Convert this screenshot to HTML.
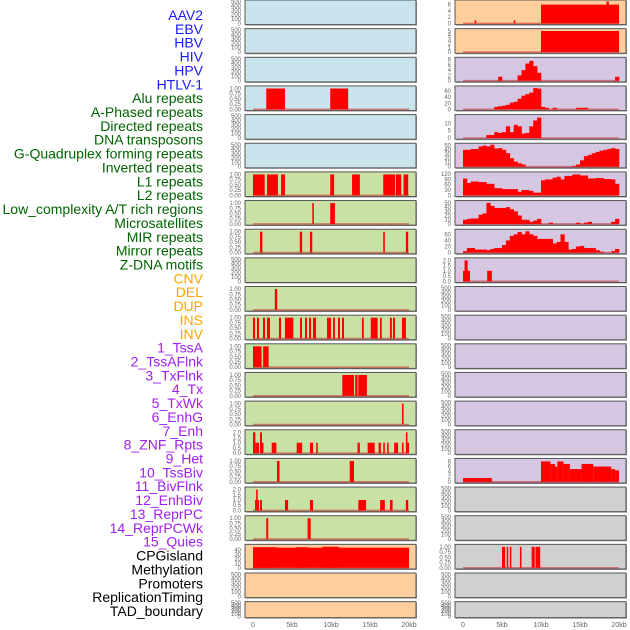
<!DOCTYPE html>
<html><head><meta charset="utf-8"><style>
body{margin:0;background:#fff;width:630px;height:630px;overflow:hidden}
svg{display:block}
text{font-family:"Liberation Sans",sans-serif}
</style></head><body>
<svg id="c" width="630" height="630" xmlns="http://www.w3.org/2000/svg"></svg>
<script>
const labels=["AAV2","EBV","HBV","HIV","HPV","HTLV-1","Alu repeats","A-Phased repeats","Directed repeats","DNA transposons","G-Quadruplex forming repeats","Inverted repeats","L1 repeats","L2 repeats","Low_complexity A/T rich regions","Microsatellites","MIR repeats","Mirror repeats","Z-DNA motifs","CNV","DEL","DUP","INS","INV","1_TssA","2_TssAFlnk","3_TxFlnk","4_Tx","5_TxWk","6_EnhG","7_Enh","8_ZNF_Rpts","9_Het","10_TssBiv","11_BivFlnk","12_EnhBiv","13_ReprPC","14_ReprPCWk","15_Quies","CPGisland","Methylation","Promoters","ReplicationTiming","TAD_boundary"];
const labelColors=["#1a1aff","#1a1aff","#1a1aff","#1a1aff","#1a1aff","#1a1aff","#006400","#006400","#006400","#006400","#006400","#006400","#006400","#006400","#006400","#006400","#006400","#006400","#006400","#ffa500","#ffa500","#ffa500","#ffa500","#ffa500","#a020f0","#a020f0","#a020f0","#a020f0","#a020f0","#a020f0","#a020f0","#a020f0","#a020f0","#a020f0","#a020f0","#a020f0","#a020f0","#a020f0","#a020f0","#000","#000","#000","#000","#000"];
const leftBg=["b","b","b","b","b","b","g","g","g","g","g","g","g","g","g","g","g","g","g","o","o","o"];
const rightBg=["o","o","p","p","p","p","p","p","p","p","p","p","p","p","p","p","p","y","y","y","y","y"];
// bar segments: [startKb,endKb,height]
const leftBars={
3:[[1.7,4.1,1],[9.9,12.2,1]],
6:[[0,1.5,1],[1.8,3.2,1],[3.6,4.1,1],[9.9,10.4,1],[12.7,13.7,1],[16.7,18.2,1],[18.3,19,1],[19.3,19.9,1]],
7:[[7.6,7.8,1],[9.9,10.5,1]],
8:[[0.9,1.2,1],[6.0,6.3,1],[7.3,7.6,1],[16.7,16.9,1],[19.6,19.9,1]],
10:[[2.8,3.1,1]],
11:[[0,0.26,1],[0.51,0.77,1],[1.28,1.54,1],[1.79,2.18,1],[3.33,3.59,1],[4.1,5.17,1],[6.03,6.28,1],[6.67,6.92,1],[7.18,7.44,1],[7.69,8.08,1],[9.49,10.0,1],[10.26,10.5,1],[10.9,11.15,1],[11.41,11.67,1],[13.97,14.2,1],[15.1,15.98,1],[16.28,16.5,1],[17.56,17.8,1],[17.95,18.2,1],[19.1,19.6,1]],
12:[[0,1.1,1],[1.3,2.0,1]],
13:[[11.45,12.95,1],[13.1,13.4,1],[13.5,14.6,1]],
14:[[19.1,19.3,1]],
15:[[0,0.3,2],[0.3,0.5,1],[0.5,0.77,1],[0.9,1.15,2],[1.15,1.3,1],[2.4,3.0,1],[5.6,6.3,1],[7.3,7.7,1],[8.1,8.3,1],[13.4,13.7,1],[14.7,15.6,1],[16.1,16.4,1],[16.7,16.9,1],[17.2,17.4,1],[18.1,18.6,1],[19.1,19.3,1],[19.6,19.8,2],[19.8,20,1]],
16:[[3.08,3.4,1],[12.4,12.95,1]],
17:[[0.26,0.77,1],[0.4,0.6,2],[0.9,1.15,1],[4.1,4.5,1],[7.3,7.7,1],[13.5,14.5,1],[16.3,16.9,1],[17.56,17.9,1],[19.6,19.9,1]],
18:[[1.7,1.95,1],[7.0,7.4,1]],
19:[[0,20,45],[0,3,46],[5.5,7,46],[8.9,11,47]]
};
const rightBars={
0:[[1.5,1.7,1],[6.5,6.7,1],[10,20,6],[18.4,18.7,7]],
1:[[10,20,5]],
9:[[0,0.9,1],[0.2,0.6,2],[3.1,3.7,1]],
16:[[0,3.7,1.5],[10,11.2,8],[11.2,11.8,7],[11.8,12.1,6],[12.1,12.9,8],[12.9,13.7,7],[13.7,15.2,5],[15.2,16.7,7],[16.7,19,6],[19,19.5,5],[19.5,20,4.5]],
19:[[5.0,5.4,1],[5.6,5.8,1],[6.0,6.2,1],[7.3,7.5,1],[8.8,9.2,1],[9.3,9.9,1]]
};
// histograms, 0.5kb bins (40 bins)
const hist2=[0,0,0,0,0,0,0,0,0,1.5,0,0,0,0,2,4,6.5,7.5,5.5,3,0,0,0,0,0,0,0,0,0,0,0,0,0,0,0,0,0,0,0,1.5];
const hist3=[0,0,0,0,0,0,0,0,8,10,12,15,22,25,35,45,50,55,70,68,8,5,0,5,0,0,0,0,0,5,5,5,0,0,0,0,0,0,0,0];
const hist4=[0,0,0,0,0,0,2,2,4,3.5,4,8,4,9,8,3,3.5,8,12,14,0,0,0,0,0,0,0,0,0,0,0,0,0,0,0,0,0,0,0,0];
const hist5=[40,40,42,42,48,50,48,52,43,44,40,32,20,12,8,5,0,0,0,0,0,0,0,0,0,0,0,0,2,5,15,25,28,32,35,38,40,42,44,42];
const hist6=[95,70,78,78,75,75,65,65,40,40,35,35,35,35,20,30,30,25,15,15,85,90,90,100,105,90,110,110,118,118,112,112,95,95,98,98,92,92,90,65];
const hist7=[10,12,13,13,22,25,50,43,38,38,38,40,35,30,20,10,10,5,8,12,0,0,3,0,0,0,0,0,0,3,0,3,5,0,0,0,0,0,5,12];
const hist8=[5,15,15,10,10,10,8,12,15,15,25,40,55,60,68,60,70,60,55,45,45,45,45,30,35,60,35,10,12,20,22,15,15,15,8,3,0,0,5,12];
const rightHist={2:hist2,3:hist3,4:hist4,5:hist5,6:hist6,7:hist7,8:hist8};
const ymaxL={3:1.05,6:1.05,7:1.05,8:1.05,10:1.05,11:1.05,12:1.05,13:1.05,14:1.05,15:2.1,16:1.05,17:2.1,18:1.05,19:49};
const ymaxR={0:7,1:5.2,2:8.3,3:72,4:15,5:52,6:124,7:52,8:72,9:2.1,16:8.6,19:1.05};
const ticksFor={1.05:["0.00","0.25","0.50","0.75","1.00"],2.1:["0.0","0.5","1.0","1.5","2.0"]};
const tickVals={1.05:[0,.25,.5,.75,1],2.1:[0,.5,1,1.5,2],49:[0,10,20,30,40],7:[0,2,4,6],5.2:[0,1,2,3,4,5],8.3:[0,2,4,6,8],72:[0,20,40,60],15:[0,5,10],52:[0,10,20,30,40,50],124:[0,30,60,90,120],8.6:[0,2,4,6,8]};
const xTicks=[0,5,10,15,20];
const xTickLabels=["0","5kb","10kb","15kb","20kb"];
const bgCol={b:"#c9e4ec",g:"#c9e1a4",o:"#fecf9d",p:"#d5c6e2",y:"#d0d0d0"};
const NS="http://www.w3.org/2000/svg";
const svg=document.getElementById("c");
function mk(t,a,p){const e=document.createElementNS(NS,t);for(const k in a)e.setAttribute(k,a[k]);(p||svg).appendChild(e);return e;}
function rowTop(i){return 28.65*i;}
function rowH(i){return i===21?16:24.6;}
const cols=[{x0:245,x1:416,z:253,bg:leftBg,bars:leftBars,hist:{},ymax:ymaxL,side:"left"},{x0:455,x1:626,z:463,bg:rightBg,bars:rightBars,hist:rightHist,ymax:ymaxR,side:"right"}];
function xs(col,kb){return col.z+kb*7.8;}
labels.forEach((l,k)=>{
  const t=mk("text",{x:203,y:15+13.86*k+5,"text-anchor":"end","font-size":"14",fill:labelColors[k]});
  t.textContent=l;
  
  
});
cols.forEach(col=>{
  for(let i=0;i<22;i++){
    const g=mk("g",{});
    
    
    const top=rowTop(i),h=rowH(i);
    const y0=top+h-1.2,y1=top+1.5;
    mk("rect",{x:col.x0+1,y:top+1,width:col.x1-col.x0,height:h,fill:"#999"},g);
    mk("rect",{x:col.x0,y:top,width:col.x1-col.x0,height:h,fill:bgCol[col.bg[i]],stroke:"#555","stroke-width":1},g);
    const ym=col.ymax[i];
    const ys=v=>y0-(v/(ym||500))*(y0-y1);
    let tv,tl;
    if(ym){tv=tickVals[ym];tl=ticksFor[ym]||tv.map(String);}
    else{tv=[0,100,200,300,400,500];tl=tv.map(String);}
    tv.forEach((v,j)=>{const t=mk("text",{x:col.x0-4,y:ys(v)+2,"text-anchor":"end","font-size":"6",fill:"#666"},g);t.textContent=tl[j];});
    if(ym){
      mk("line",{x1:xs(col,0),x2:xs(col,20),y1:y0,y2:y0,stroke:"rgba(200,40,40,0.55)","stroke-width":1.6},g);
    }
    const hv=col.hist[i];
    if(hv){hv.forEach((v,b)=>{if(v>0){const r=mk("rect",{x:xs(col,b*0.5),y:ys(v),width:7.8*0.5+0.3,height:y0-ys(v),fill:"#ff0000"},g);}});}
    const bs=col.bars[i];
    if(bs){bs.forEach(s=>{const r=mk("rect",{x:xs(col,s[0]),y:ys(s[2]),width:Math.max(1.5,(s[1]-s[0])*7.8),height:y0-ys(s[2]),fill:"#ff0000"},g);});}
  }
  xTicks.forEach((v,j)=>{const t=mk("text",{x:xs(col,v),y:627,"text-anchor":"middle","font-size":"7",fill:"#666"});t.textContent=xTickLabels[j];
    
    });
});
</script>
</body></html>
